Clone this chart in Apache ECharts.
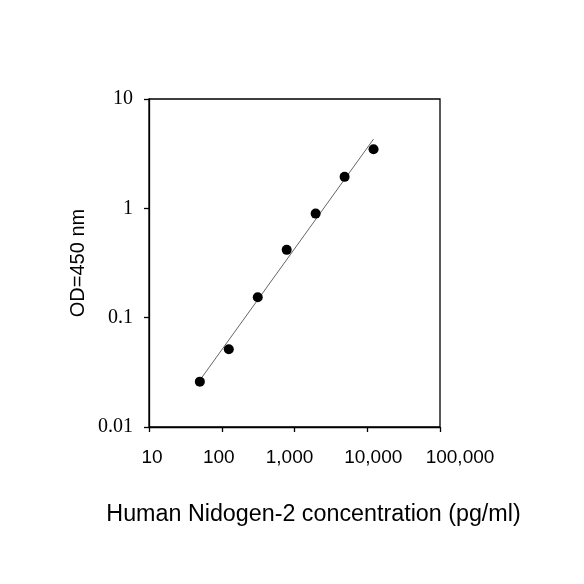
<!DOCTYPE html>
<html>
<head>
<meta charset="utf-8">
<script src="https://cdn.jsdelivr.net/npm/echarts@6/dist/echarts.min.js"></script>
<style>html,body{margin:0;padding:0;background:#fff}#c{width:584px;height:584px}</style>
</head>
<body>
<div id="c"></div>
<script>
// Data
const concentration = [50, 125, 312.5, 781.25, 1953, 4883, 12207];
const od450 = [0.026, 0.0515, 0.154, 0.417, 0.895, 1.94, 3.47];
const xTickLabels = ['10', '100', '1,000', '10,000', '100,000'];
const yTickLabels = ['0.01', '0.1', '1', '10'];
const xTitle = 'Human Nidogen-2 concentration (pg/ml)';
const yTitle = 'OD=450 nm';

// log-log linear regression (trend line)
const lx = concentration.map(Math.log10), ly = od450.map(Math.log10);
const n = lx.length;
const mx = lx.reduce((a, b) => a + b, 0) / n, my = ly.reduce((a, b) => a + b, 0) / n;
let sxy = 0, sxx = 0;
for (let i = 0; i < n; i++) { sxy += (lx[i] - mx) * (ly[i] - my); sxx += (lx[i] - mx) ** 2; }
const slope = sxy / sxx, icpt = my - slope * mx;
const xmin = Math.min(...concentration), xmax = Math.max(...concentration);
const fitLine = [xmin, xmax].map(x => [x, Math.pow(10, icpt + slope * Math.log10(x))]);

const xShift = [3, -3, -5, 6, 20];
const richX = {};
xShift.forEach((d, i) => {
  richX['s' + i] = {
    fontFamily: 'Liberation Sans, Arial, sans-serif', fontSize: 19, color: '#000',
    padding: d >= 0 ? [0, 0, 0, 2 * d] : [0, -2 * d, 0, 0]
  };
});

const chart = echarts.init(document.getElementById('c'), null, { renderer: 'canvas' });
chart.setOption({
  animation: false,
  backgroundColor: '#fff',
  grid: { left: 149, right: 144, top: 99, bottom: 157, show: true, borderColor: '#000', borderWidth: 1.3, backgroundColor: 'transparent' },
  xAxis: {
    type: 'log', logBase: 10, min: 10, max: 100000,
    name: xTitle, nameLocation: 'middle', nameGap: 76,
    nameTextStyle: { fontFamily: 'Liberation Sans, Arial, sans-serif', fontSize: 23.3, color: '#000', padding: [0, 0, 0, 38] },
    axisLine: { lineStyle: { color: '#000', width: 1.3 } },
    axisTick: { show: true, inside: false, length: 5, lineStyle: { color: '#000', width: 1.3 } },
    minorTick: { show: false },
    splitLine: { show: false },
    axisLabel: {
      margin: 21,
      formatter: v => { const i = Math.round(Math.log10(v)) - 1; return '{s' + i + '|' + xTickLabels[i] + '}'; },
      rich: richX
    }
  },
  yAxis: {
    type: 'log', logBase: 10, min: 0.01, max: 10,
    name: yTitle, nameLocation: 'middle', nameGap: 61, nameRotate: 90,
    nameTextStyle: { fontFamily: 'Liberation Sans, Arial, sans-serif', fontSize: 20, color: '#000' },
    axisLine: { lineStyle: { color: '#000', width: 1.3 } },
    axisTick: { show: true, inside: false, length: 5, lineStyle: { color: '#000', width: 1.3 } },
    splitLine: { show: false },
    axisLabel: {
      margin: 16, color: '#000',
      fontFamily: 'Liberation Serif, Times New Roman, serif', fontSize: 20,
      formatter: v => yTickLabels[Math.round(Math.log10(v)) + 2]
    }
  },
  series: [
    {
      type: 'line', data: fitLine, showSymbol: false, symbol: 'none',
      lineStyle: { color: '#666', width: 1 }, z: 2, silent: true
    },
    {
      type: 'scatter', data: concentration.map((x, i) => [x, od450[i]]),
      symbol: 'circle', symbolSize: 10, itemStyle: { color: '#000', opacity: 1 }, z: 3
    }
  ]
});
</script>
</body>
</html>
